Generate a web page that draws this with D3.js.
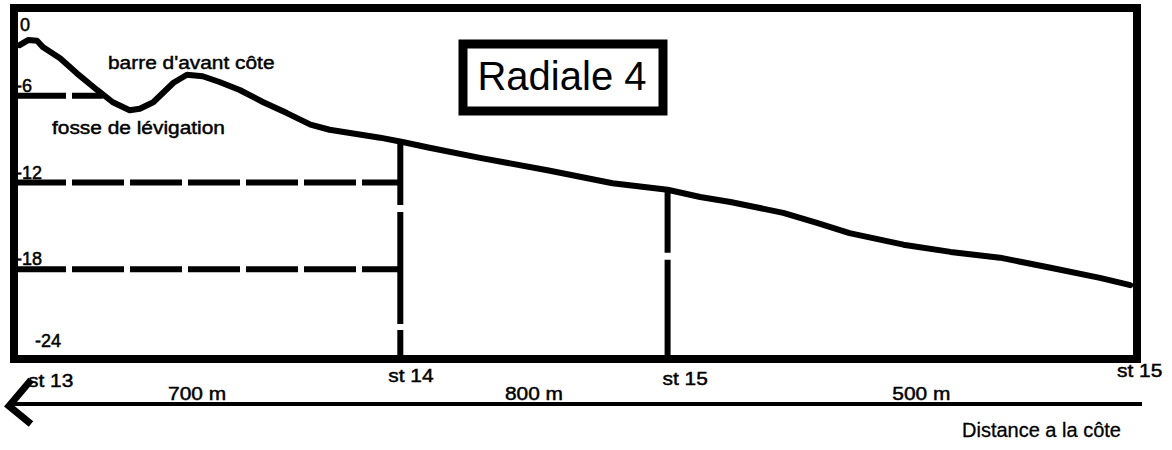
<!DOCTYPE html>
<html>
<meta charset="utf-8">
<head>
<style>
body { background:#fff; margin:0; padding:0; }
svg { display:block; }
text { font-family: "Liberation Sans", Arial, sans-serif; fill:#000; }
.lbl { font-size:18px; stroke:#000; stroke-width:0.45px; }
.tick { font-size:18px; stroke:#000; stroke-width:0.5px; }
</style>
</head>
<body>
<svg></svg>
<script src="https://d3js.org/d3.v7.min.js"></script>
<script>

var width = 1172, height = 450;

// profile, x in % of transect length, depth in m
var profileX =     [0.5, 1.25, 2.05, 2.6, 4.1, 5.6, 7.4, 8.8, 10.3, 11.2, 12.4, 14.2, 15.4, 16.8, 18.3, 20.1, 22.2, 24.3, 26.4, 28.1, 32.6, 34.6, 37.0, 41.5, 47.5, 53.3, 58.2, 61.1, 63.8, 68.5, 71.5, 74.4, 79.2, 83.4, 87.8, 92.3, 96.7, 99.4];
var profileDepth = [-2.5, -2.15, -2.2, -2.65, -3.4, -4.45, -5.6, -6.45, -7.0, -6.9, -6.45, -5.1, -4.55, -4.65, -5.05, -5.6, -6.45, -7.2, -8.0, -8.35, -8.9, -9.2, -9.6, -10.3, -11.15, -12.05, -12.5, -13.0, -13.35, -14.1, -14.8, -15.5, -16.3, -16.8, -17.2, -17.9, -18.6, -19.1];

var stations = ["st 13", "st 14", "st 15", "st 15"];
var stationX = [0, 34.4, 58.2, 100];
var stationDepth = [null, -9.2, -12.5, null];

var segments = ["700 m", "800 m", "500 m"];

var depthTicks = [0, -6, -12, -18, -24];
var refDepths = [-6, -12, -18];
var refEndX = [7.9, 34.4, 34.4];

var svg = d3.select("svg").attr("width", width).attr("height", height);

var x = d3.scaleLinear().domain([0, 100]).range([14, 1137]);
var y = d3.scaleLinear().domain([0, -24]).range([9, 356]);

// horizontal reference dashes
svg.selectAll(".ref").data(refDepths).enter().append("line")
    .attr("x1", x(0)).attr("x2", function(d, i) { return x(refEndX[i]); })
    .attr("y1", function(d) { return y(d); }).attr("y2", function(d) { return y(d); })
    .attr("stroke", "#000").attr("stroke-width", 6)
    .attr("stroke-dasharray", "52,6");

// station verticals
var inner = stationX.map(function(v, i) { return {x: v, d: stationDepth[i]}; })
  .filter(function(s) { return s.d !== null; });
svg.selectAll(".st").data(inner).enter().append("line")
    .attr("x1", function(d) { return x(d.x); }).attr("x2", function(d) { return x(d.x); })
    .attr("y1", function(d) { return y(d.d); }).attr("y2", y(-24) + 3)
    .attr("stroke", "#000").attr("stroke-width", 6)
    .attr("stroke-dasharray", "63,7,112,6,200");

// bottom profile
var line = d3.line()
    .x(function(d, i) { return x(profileX[i]); })
    .y(function(d) { return y(d); })
    .curve(d3.curveLinear);
svg.append("path").datum(profileDepth)
    .attr("d", line)
    .attr("fill", "none").attr("stroke", "#000")
    .attr("stroke-width", 6).attr("stroke-linejoin", "round").attr("stroke-linecap", "round");

// frame
svg.append("rect")
    .attr("x", x(0)).attr("y", y(0) - 1)
    .attr("width", x(100) - x(0)).attr("height", y(-24) + 4 - y(0))
    .attr("fill", "none").attr("stroke", "#000").attr("stroke-width", 8);

// depth labels
svg.selectAll(".tick").data(depthTicks).enter().append("text")
    .attr("class", "tick")
    .attr("x", function(d) { return d === -24 ? 35 : (d === 0 ? 20 : 16); })
    .attr("y", function(d) { return d === 0 ? y(d) + 22 : (d === -24 ? y(d) - 9 : y(d) - 4); })
    .text(function(d) { return d; });

// annotations
svg.append("text").attr("class", "lbl").attr("x", 108).attr("y", 69).text("barre d'avant côte");
svg.append("text").attr("class", "lbl").attr("x", 52).attr("y", 134).text("fosse de lévigation");

// title box
svg.append("rect").attr("x", 463).attr("y", 44).attr("width", 200).attr("height", 67)
    .attr("fill", "#fff").attr("stroke", "#000").attr("stroke-width", 9);
svg.append("text").attr("x", 562).attr("y", 90).attr("text-anchor", "middle")
    .style("font-size", "40px").text("Radiale 4");

// distance arrow
svg.append("line").attr("x1", 10).attr("x2", 1142).attr("y1", 404).attr("y2", 404)
    .attr("stroke", "#000").attr("stroke-width", 4);
svg.append("path").attr("d", "M31,380L9,406L31,424")
    .attr("fill", "none").attr("stroke", "#000").attr("stroke-width", 7);

// station labels
var stDx = [14, -12, -5, -20];
var stDy = [387, 382, 385, 377];
svg.selectAll(".stl").data(stations).enter().append("text")
    .attr("class", "lbl")
    .attr("x", function(d, i) { return x(stationX[i]) + stDx[i]; })
    .attr("y", function(d, i) { return stDy[i]; })
    .text(function(d) { return d; });

// segment lengths
var segDx = [-10, 0, 19];
svg.selectAll(".seg").data(segments).enter().append("text")
    .attr("class", "lbl").attr("text-anchor", "middle")
    .attr("x", function(d, i) { return (x(stationX[i]) + x(stationX[i + 1])) / 2 + segDx[i]; })
    .attr("y", 400)
    .text(function(d) { return d; });

svg.append("text").attr("x", 962).attr("y", 437).style("font-size", "20px")
    .style("stroke", "#000").style("stroke-width", "0.3px").text("Distance a la côte");

// the scanned small text is a bit wider than plain Arial
svg.selectAll(".lbl").each(function() {
  var w = this.getComputedTextLength();
  d3.select(this).attr("textLength", w * 1.16).attr("lengthAdjust", "spacingAndGlyphs");
});

</script>
</body>
</html>
